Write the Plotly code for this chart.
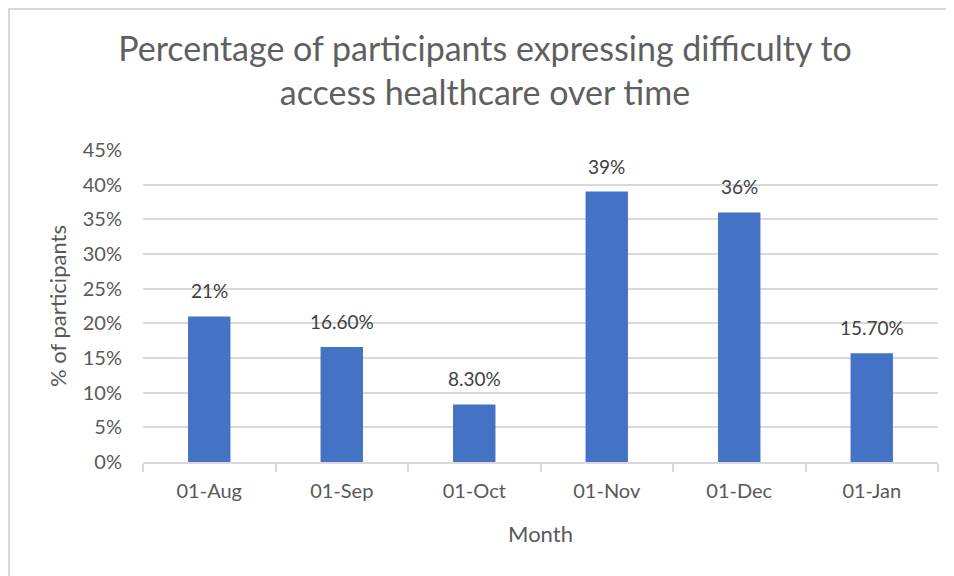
import plotly.graph_objects as go

months = ["01-Aug", "01-Sep", "01-Oct", "01-Nov", "01-Dec", "01-Jan"]
values = [21, 16.6, 8.3, 39, 36, 15.7]
labels = ["21%", "16.60%", "8.30%", "39%", "36%", "15.70%"]
y_ticks = [0, 5, 10, 15, 20, 25, 30, 35, 40, 45]
y_tick_text = [f"{v}%" for v in y_ticks]

FONT = "Lato, 'Open Sans', sans-serif"
GRAY = "#595959"
LINE = "#d9d9d9"

fig = go.Figure()
fig.add_trace(go.Bar(
    x=months, y=values, width=0.32,
    marker=dict(color="#4472C4", line=dict(width=0)),
    hoverinfo="skip",
))

for m, v, t in zip(months, values, labels):
    fig.add_annotation(x=m, y=v, text=t, showarrow=False, yanchor="bottom",
                       yshift=12, font=dict(family=FONT, size=19, color="#404040"))

fig.add_shape(type="rect", xref="paper", yref="paper",
              x0=-0.1686, x1=1.2, y0=-0.6, y1=1.452,
              line=dict(color=LINE, width=2), fillcolor="rgba(0,0,0,0)", layer="below")

fig.update_layout(
    width=954, height=576,
    margin=dict(l=135, r=24, t=142, b=122),
    paper_bgcolor="white", plot_bgcolor="white",
    showlegend=False,
    title=dict(
        text="Percentage of participants expressing difficulty to<br>access healthcare over time",
        x=0.5, xref="container", xanchor="center",
        y=0.908, yref="container", yanchor="top",
        font=dict(family=FONT, size=34, color="#5f5f5f", weight=400),
    ),
    xaxis=dict(
        type="category", showgrid=False,
        showline=True, linecolor=LINE, linewidth=1.5,
        ticks="outside", tickson="boundaries", ticklen=8, tickcolor=LINE, tickwidth=1.5,
        ticklabelstandoff=10,
        tickfont=dict(family=FONT, size=20, color=GRAY),
        title=dict(text="Month", font=dict(family=FONT, size=22, color=GRAY), standoff=26),
    ),
    yaxis=dict(
        range=[0, 45], tickvals=y_ticks, ticktext=y_tick_text,
        showgrid=True, gridcolor=LINE, gridwidth=1.5,
        zeroline=False, showline=False, ticks="",
        tickfont=dict(family=FONT, size=20, color=GRAY),
        ticklabelstandoff=20,
        title=dict(text="% of participants", font=dict(family=FONT, size=22, color=GRAY), standoff=10),
    ),
)

fig.write_html("out.html")
